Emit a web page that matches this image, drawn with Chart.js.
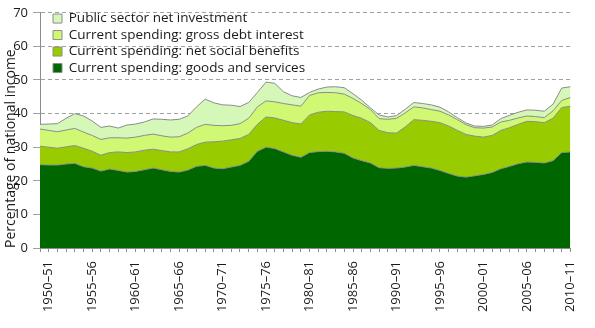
<!DOCTYPE html>
<html>
<head>
<meta charset="utf-8">
<script src="https://cdn.jsdelivr.net/npm/chart.js@4.4.0/dist/chart.umd.min.js"></script>
</head>
<body style="margin:0;background:#fff">
<canvas id="grafico" width="595" height="328"></canvas>
<script>
// financial years on the x axis, one point per year
const anos = [
  '1949–50','1950–51','1951–52','1952–53','1953–54','1954–55','1955–56','1956–57','1957–58','1958–59',
  '1959–60','1960–61','1961–62','1962–63','1963–64','1964–65','1965–66','1966–67','1967–68','1968–69',
  '1969–70','1970–71','1971–72','1972–73','1973–74','1974–75','1975–76','1976–77','1977–78','1978–79',
  '1979–80','1980–81','1981–82','1982–83','1983–84','1984–85','1985–86','1986–87','1987–88','1988–89',
  '1989–90','1990–91','1991–92','1992–93','1993–94','1994–95','1995–96','1996–97','1997–98','1998–99',
  '1999–00','2000–01','2001–02','2002–03','2003–04','2004–05','2005–06','2006–07','2007–08','2008–09',
  '2009–10','2010–11'
];

// only these get a label under the axis
const rotulosEixo = ['1950–51','1955–56','1960–61','1965–66','1970–71','1975–76','1980–81',
  '1985–86','1990–91','1995–96','2000–01','2005–06','2010–11'];

const bensServicos = [
  24.8,24.7,24.7,25.0,25.2,24.2,23.8,22.9,23.5,23.1, 22.6,22.8,23.3,23.8,23.3,22.8,22.6,23.2,24.3,24.6,
  23.8,23.6,24.1,24.6,25.8,28.8,30.0,29.6,28.6,27.6, 27.0,28.4,28.7,28.8,28.6,28.2,26.8,26.0,25.3,23.9,
  23.7,23.8,24.1,24.6,24.2,23.8,23.1,22.2,21.4,21.1, 21.5,21.9,22.5,23.6,24.3,25.1,25.6,25.5,25.3,26.0,
  28.4,28.6
];
const beneficiosSociais = [
  5.5,5.3,5.0,5.1,5.3,5.5,5.0,4.7,4.9,5.5, 5.8,5.8,5.8,5.6,5.7,5.8,6.0,6.3,6.5,6.9,
  7.8,8.2,8.1,8.0,8.0,8.0,9.0,9.1,9.4,9.7, 9.9,11.2,11.7,11.9,12.0,12.3,12.6,12.6,12.0,11.1,
  10.6,10.4,11.9,13.6,13.8,13.9,14.2,14.1,13.6,12.7, 11.8,11.1,11.0,11.4,11.5,11.7,12.1,12.1,12.0,12.6,
  13.4,13.6
];
const jurosDivida = [
  5.1,5.0,4.9,5.0,5.1,4.8,4.7,4.7,4.4,4.2, 4.3,4.4,4.4,4.5,4.4,4.4,4.5,4.7,5.1,5.3,
  4.9,4.6,4.3,4.4,4.8,5.2,4.8,4.8,5.0,5.3, 5.3,5.8,5.8,5.6,5.6,5.3,5.1,4.4,3.9,3.5,
  4.0,4.4,4.2,3.8,3.7,3.5,3.4,3.3,3.2,2.9, 2.5,2.7,2.5,2.5,2.2,1.9,1.6,1.5,1.5,2.2,
  2.1,2.6
];
const investimentoLiquido = [
  1.4,1.9,2.4,3.5,4.4,4.8,4.3,3.6,3.5,2.9, 3.9,3.9,4.0,4.5,4.9,5.1,5.2,5.1,6.1,7.5,
  6.7,6.2,6.0,5.1,4.7,4.3,5.6,5.5,3.5,2.7, 2.6,0.9,1.1,1.6,1.8,1.9,1.4,1.0,0.5,1.1,
  0.7,0.8,1.1,1.3,1.3,1.4,1.2,0.9,0.6,0.5, 0.5,0.5,0.6,1.0,1.5,1.7,1.8,1.9,1.9,2.0,
  3.7,3.2
];

const fonte = 'Open Sans';
const corLinha = '#8c8c8c';
const corTexto = '#1a1a1a';

// legend sits inside the plot, a bit in from the left edge
const deslocaLegenda = {
  id: 'deslocaLegenda',
  afterLayout(chart) {
    chart.legend.left = chart.chartArea.left + 10;
    chart.legend.top = chart.chartArea.top - 4;
  }
};

function camada(label, dados, cor, preenchimento) {
  return {
    label: label,
    data: dados,
    backgroundColor: cor,
    borderColor: corLinha,
    borderWidth: 1,
    pointRadius: 0,
    fill: preenchimento,
  };
}

new Chart(document.getElementById('grafico'), {
  type: 'line',
  data: {
    labels: anos,
    datasets: [
      camada('Current spending: goods and services', bensServicos, '#006600', 'origin'),
      camada('Current spending: net social benefits', beneficiosSociais, '#99cc00', '-1'),
      camada('Current spending: gross debt interest', jurosDivida, '#d0f873', '-1'),
      camada('Public sector net investment', investimentoLiquido, '#d5f8b8', '-1'),
    ],
  },
  options: {
    responsive: false,
    animation: false,
    devicePixelRatio: 1,
    layout: { padding: { top: 8, right: 6, left: 0, bottom: 0 } },
    plugins: {
      tooltip: { enabled: false },
      legend: {
        position: 'chartArea',
        align: 'start',
        reverse: true,
        labels: {
          boxWidth: 9,
          boxHeight: 9,
          padding: 3,
          color: corTexto,
          font: { family: fonte, size: 13.5 },
        },
      },
    },
    scales: {
      x: {
        offset: false,
        grid: { drawOnChartArea: false, drawTicks: true, tickLength: 4, color: corLinha },
        border: { color: corLinha },
        ticks: {
          autoSkip: false,
          minRotation: 90,
          maxRotation: 90,
          padding: 9,
          color: corTexto,
          font: { family: fonte, size: 13 },
          callback: function (valor) {
            const rotulo = this.getLabelForValue(valor);
            return rotulosEixo.includes(rotulo) ? rotulo : '';
          },
        },
        afterFit: (escala) => { escala.height = 80; },
      },
      y: {
        stacked: true,
        min: 0,
        max: 70,
        grid: { color: '#a0a0a0', tickLength: 7 },
        border: { color: corLinha, dash: [4, 3] },
        ticks: {
          stepSize: 5,
          padding: 5,
          color: corTexto,
          font: { family: fonte, size: 13 },
        },
        title: {
          display: true,
          text: 'Percentage of national income',
          align: 'start',
          color: corTexto,
          font: { family: fonte, size: 14 },
          padding: { top: 3, bottom: 0 },
        },
        afterFit: (escala) => { escala.width = 40; },
      },
    },
  },
  plugins: [deslocaLegenda],
});
</script>
</body>
</html>
